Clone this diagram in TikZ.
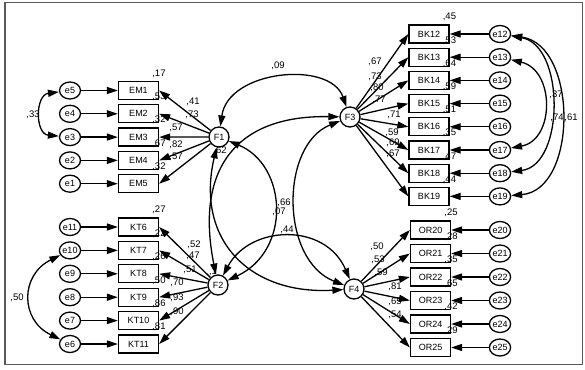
\documentclass[tikz,border=0pt]{standalone}
\usepackage{fontspec}
\setmainfont{Liberation Sans}
\usetikzlibrary{arrows.meta, shapes.geometric}
\begin{document}
\begin{tikzpicture}[x=1pt, y=-1pt,
  ind/.style={draw, line width=1.3pt, minimum width=40pt, minimum height=18pt,
              inner sep=0pt, font=\fontsize{9}{10}\selectfont},
  err/.style={draw, ellipse, line width=1.3pt, minimum width=21pt, minimum height=17pt,
              inner sep=0pt, font=\fontsize{9}{10}\selectfont},
  fac/.style={draw, circle, line width=1.3pt, minimum size=20pt, inner sep=0pt,
              font=\fontsize{9}{10}\selectfont},
  num/.style={inner sep=0pt, font=\fontsize{9.5}{10}\selectfont},
  rsq/.style={label={[num, anchor=base west, xshift=-7pt, yshift=4.5pt]north east:{,#1}}},
  arr/.style={-{Triangle[length=11pt, width=7pt]}, line width=1.3pt},
  cov/.style={{Triangle[length=11pt, width=7pt]}-{Triangle[length=11pt, width=7pt]}, line width=1.3pt}]
  \useasboundingbox (0,0) rectangle (585,369);
  \draw[line width=1.8pt, black!65] (5,2.5) rectangle (582.5,364.5);
  \node[fac] (F1) at (219,137) {F1};
  \node[fac] (F2) at (218,285) {F2};
  \node[fac] (F3) at (350,117) {F3};
  \node[fac] (F4) at (354,289) {F4};
  \foreach \i/\k/\y/\q in {1/5/90.5/17, 2/4/113.8/53, 3/3/137.1/32, 4/2/160.4/67, 5/1/183.7/32} {
    \node[ind, rsq=\q] (EM\i) at (138.5,\y) {EM\i};
    \node[err] (e\k) at (70,\y) {e\k};
    \draw[arr] (e\k) -- (EM\i);
    \draw[arr] (F1) -- (EM\i.east);
  }
  \foreach \i/\k/\y/\q in {6/11/227/27, 7/10/250.4/22, 8/9/273.8/26, 9/8/297.2/50, 10/7/320.6/86, 11/6/344/81} {
    \node[ind, rsq=\q] (KT\i) at (138.5,\y) {KT\i};
    \node[err] (e\k) at (70,\y) {e\k};
    \draw[arr] (e\k) -- (KT\i);
    \draw[arr] (F2) -- (KT\i.east);
  }
  \foreach \i/\y/\q in {12/34/45, 13/57.2/53, 14/80.4/64, 15/103.6/59, 16/126.8/51, 17/150/35, 18/173.2/47, 19/196.4/44} {
    \node[ind, rsq=\q] (BK\i) at (429,\y) {BK\i};
    \node[err] (e\i) at (500,\y) {e\i};
    \draw[arr] (e\i) -- (BK\i);
    \draw[arr] (F3) -- (BK\i.west);
  }
  \foreach \i/\y/\q in {20/230/25, 21/253.5/28, 22/277/35, 23/300.5/65, 24/324/42, 25/347.5/29} {
    \node[ind, rsq=\q] (OR\i) at (430.5,\y) {OR\i};
    \node[err] (e\i) at (500,\y) {e\i};
    \draw[arr] (e\i) -- (OR\i);
    \draw[arr] (F4) -- (OR\i.west);
  }
  \foreach \q/\x/\y in {41/193/102, 73/192/115, 57/176/128, 82/176/145, 57/176/157,
                        52/194/245, 47/193/256, 51/190/270, 70/177/283, 93/177/298, 90/177/312,
                        67/375/62, 73/375/77, 80/377/88, 77/379/100, 71/394/115, 59/392/133, 69/393/143, 67/393/154,
                        50/377/247, 53/378/260, 59/381/273, 81/395/287, 65/395/302, 54/395/315}
    \node[num] (ld\x-\y) at (\x,\y) {,\q};
  \node[num] (c13) at (278,66) {,09};
  \node[num] (c14) at (220,151) {,62};
  \node[num] (c34) at (284,203) {,66};
  \node[num] (c12) at (279,212) {,07};
  \node[num] (c24) at (287,230) {,44};
  \node[num] (c23) at (213,272) {,1};
  \node[num] (ce53) at (33,115) {,33};
  \node[num] (ce106) at (17,298) {,50};
  \node[num] (ce1317) at (556,95) {,37};
  \node[num] (ce1218) at (557,118) {,74};
  \node[num] (ce1219) at (571,118) {,61};
  \draw[cov] (F1) .. controls (228,70) and (330,60) .. (F3);
  \draw[cov] (F1) .. controls (195,240) and (250,295) .. (F4);
  \draw[cov] (F2) .. controls (195,170) and (235,115) .. (F3);
  \draw[cov] (F1) .. controls (287,165) and (292,250) .. (F2);
  \draw[cov] (F3) .. controls (280,145) and (280,260) .. (F4);
  \draw[cov] (F2) .. controls (250,225) and (325,222) .. (F4);
  \draw[cov] (e5) .. controls (35,95) and (35,134) .. (e3);
  \draw[cov] (e10) .. controls (20,275) and (20,320) .. (e6);
  \draw[cov] (e13) .. controls (555,70) and (555,140) .. (e17);
  \draw[cov] (e12) .. controls (565,45) and (565,165) .. (e18);
  \draw[cov] (e12) .. controls (578,45) and (578,190) .. (e19);
\end{tikzpicture}
\end{document}
